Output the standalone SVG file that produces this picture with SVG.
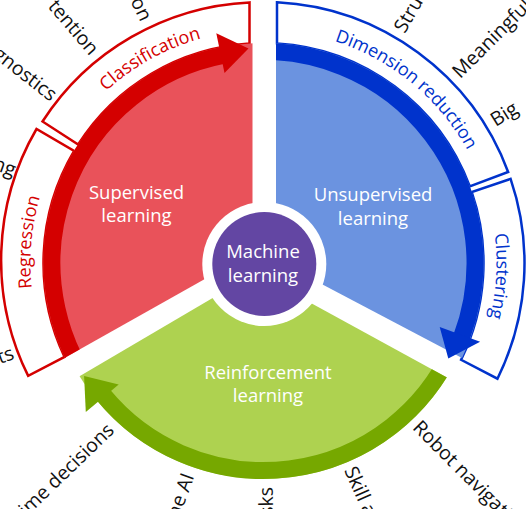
<svg xmlns="http://www.w3.org/2000/svg" width="526" height="509" viewBox="0 0 526 509">
<style>
.t{font-family:"Open Sans","Noto Sans","DejaVu Sans",sans-serif;font-size:18.5px}
.o{font-family:"Open Sans","Noto Sans","DejaVu Sans",sans-serif;font-size:19.5px;fill:#111}
.w{fill:#fff;text-anchor:middle}
.e{text-anchor:end}
.bl{font-family:"Open Sans","Noto Sans","DejaVu Sans",sans-serif;font-size:18px;text-anchor:middle}
.rbox{fill:#fff;stroke:#D40000;stroke-width:2.5;stroke-linejoin:miter}
.bbox{fill:#fff;stroke:#0033CC;stroke-width:2.5;stroke-linejoin:miter}
.band{fill:none;stroke-width:17}
</style>
<defs>
<clipPath id="cr"><polygon points="252.5,252.2 252.5,-100 -100,-100 -100,450.5"/></clipPath>
<clipPath id="cb"><polygon points="276,260.1 276,-100 700,-100 700,483.3"/></clipPath>
<clipPath id="cg"><polygon points="255.6,272.85 -100,481.7 -100,700 700,700 700,516"/></clipPath>
<path id="pCla" d="M30.54 258.93A233 233 0 0 1 383.5 63.28"/>
<path id="pReg" d="M129.52 453.63A233 233 0 0 1 165.4 51.66"/>
<path id="pDim" d="M181.52 44.9A233 233 0 0 1 493.37 301.06"/>
<path id="pClu" d="M391.06 68.03A233 233 0 0 1 368.55 470.97"/>
</defs>
<rect width="526" height="509" fill="#fff"/>

<g id="node-classification">
<path class="rbox" d="M42.5 121.5A261 261 0 0 1 249.5 2.38L249.5 43.45A220 220 0 0 0 78.16 144.47Z"/>
<text class="bl" fill="#D40000"><textPath href="#pCla" startOffset="50%">Classification</textPath></text>
</g>
<g id="node-regression">
<path class="rbox" d="M36.5 129A261 261 0 0 0 28.19 375.92L64.56 356.93A220 220 0 0 1 74.14 151.01Z"/>
<text class="bl" fill="#D40000"><textPath href="#pReg" startOffset="50%">Regression</textPath></text>
</g>
<g id="node-dimension-reduction">
<path class="bbox" d="M277 2.35A261 261 0 0 1 508.13 172.02L469.7 186.31A220 220 0 0 0 277 43.41Z"/>
<text class="bl" fill="#0033CC"><textPath href="#pDim" startOffset="50%">Dimension reduction</textPath></text>
</g>
<g id="node-clustering">
<path class="bbox" d="M510.58 178.89A261 261 0 0 1 497.47 378.68L461.09 359.75A220 220 0 0 0 471.76 192.1Z"/>
<text class="bl" fill="#0033CC"><textPath href="#pClu" startOffset="50%">Clustering</textPath></text>
</g>

<g id="node-supervised">
<circle cx="263.5" cy="263" r="220" fill="#E9525A" clip-path="url(#cr)"/>
<text class="t w" x="136.5" y="198.5">Supervised</text>
<text class="t w" x="136.5" y="222.3">learning</text>
</g>
<g id="node-unsupervised">
<circle cx="263.5" cy="263" r="220" fill="#6B93E0" clip-path="url(#cb)"/>
<text class="t w" x="373" y="201.3">Unsupervised</text>
<text class="t w" x="373" y="224.5">learning</text>
</g>
<g id="node-reinforcement">
<circle cx="263.5" cy="263" r="216" fill="#AED250" clip-path="url(#cg)"/>
<text class="t w" x="268" y="379">Reinforcement</text>
<text class="t w" x="268" y="402">learning</text>
</g>

<g id="connectors">
<path class="band" stroke="#D40000" clip-path="url(#cr)" d="M101.5 399A211.5 211.5 0 0 1 223.1 55.4"/>
<polygon fill="#D40000" points="224.5,73 216.3,33.3 248.5,48.5"/>
<path class="band" stroke="#0033CC" clip-path="url(#cb)" d="M245.1 52.3A211.5 211.5 0 0 1 461.6 337.1"/>
<polygon fill="#0033CC" points="439.7,327.1 480.1,341.8 448.3,358.4"/>
<path class="band" stroke="#76A800" clip-path="url(#cg)" d="M451.6 350.7A207.5 207.5 0 0 1 103.4 395"/>
<polygon fill="#76A800" points="118.7,384.5 85.8,412.1 84.1,376"/>
</g>

<g id="node-machine-learning">
<circle cx="264.3" cy="264" r="62" fill="#fff"/>
<circle cx="264.3" cy="264" r="52" fill="#6346A3"/>
<text class="t w" x="263" y="258">Machine</text>
<text class="t w" x="263" y="282">learning</text>
</g>

<g id="outer-labels" class="o">
<text class="e" dy="0.35em" transform="translate(146.77 19.54) rotate(64.4)">on</text>
<text class="e" dy="0.35em" transform="translate(95.05 51.99) rotate(49.5)">tention</text>
<text class="e" dy="0.35em" transform="translate(54.5 96.5) rotate(38)">gnostics</text>
<text class="e" dy="0.35em" transform="translate(15.3 170.2) rotate(20.5)">ng</text>
<text class="e" dy="0.35em" transform="translate(12.9 352.2) rotate(-19.6)">ts</text>
<text class="e" dy="0.35em" transform="translate(110.49 426.6) rotate(-44)">ime decisions</text>
<text class="e" dy="0.35em" transform="translate(187.99 473.89) rotate(-70.3)">ne AI</text>
<text class="e" dy="0.35em" transform="translate(265.85 486.99) rotate(-90.6)">sks</text>
<text dy="0.35em" transform="translate(350.24 467.35) rotate(66)">Skill a</text>
<text dy="0.35em" transform="translate(416.6 423.77) rotate(45)">Robot navigati</text>
<text dy="0.35em" transform="translate(398.81 30.51) rotate(-59.8)">Stru</text>
<text dy="0.35em" transform="translate(455.36 74.46) rotate(-45)">Meaningful</text>
<text dy="0.35em" transform="translate(492.12 121.25) rotate(-31.8)">Big</text>
</g>
</svg>
